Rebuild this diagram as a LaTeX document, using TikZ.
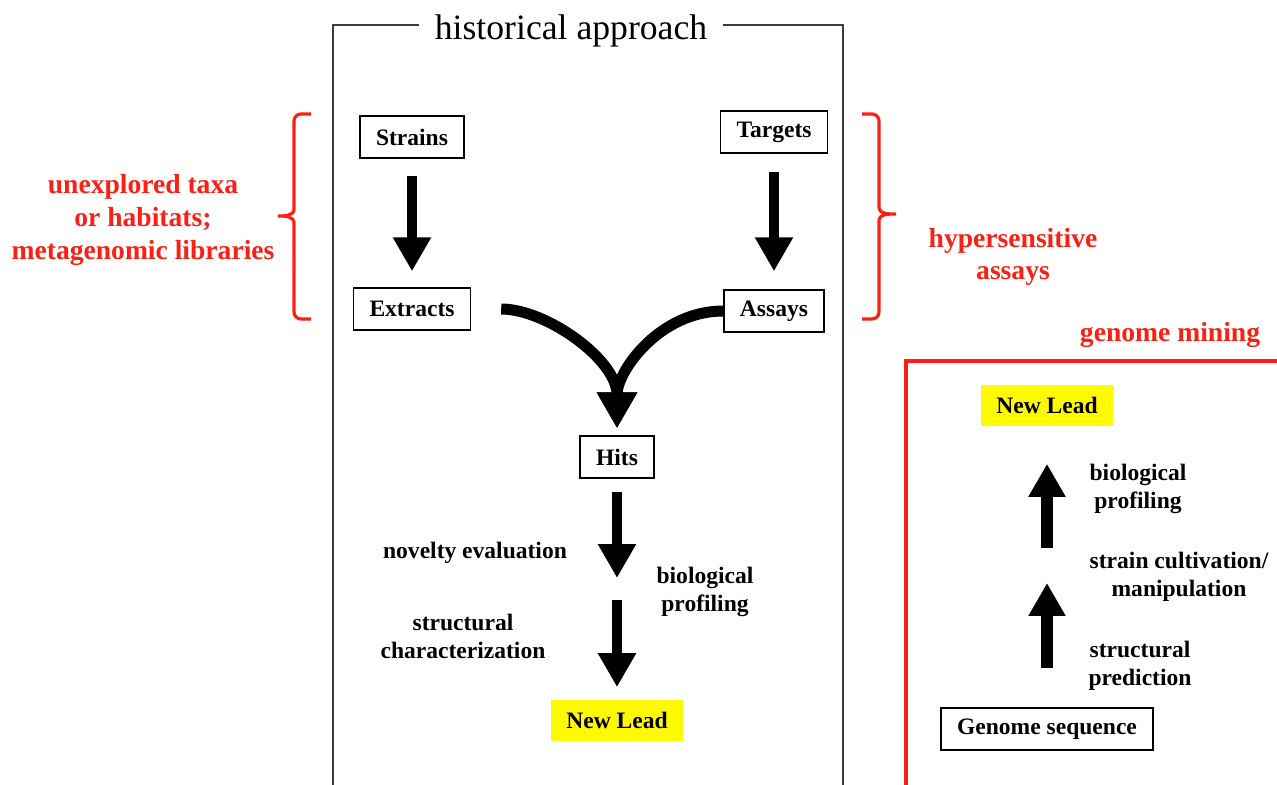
\documentclass[tikz,border=0pt]{standalone}
\usepackage{fontspec}
\setmainfont{Liberation Serif}
\usepackage{tikz}
\usetikzlibrary{arrows.meta,positioning,calc}
\usepackage{xcolor}
\definecolor{markred}{RGB}{250,32,20}
\definecolor{leadyellow}{RGB}{255,250,0}
\definecolor{frame}{RGB}{60,60,60}

\begin{document}
\begin{tikzpicture}[x=0.02cm, y=-0.02cm,
    stage/.style={draw, line width=0.8pt, inner xsep=0.32cm, minimum height=0.84cm, font=\fontsize{13.4}{15.5}\selectfont\bfseries},
    lead/.style={fill=leadyellow, inner xsep=0.31cm, minimum height=0.82cm, font=\fontsize{13.4}{15.5}\selectfont\bfseries},
    note/.style={align=center, font=\fontsize{13.4}{16}\selectfont\bfseries},
    rednote/.style={align=center, text=markred, font=\fontsize{15.7}{18.6}\selectfont\bfseries},
    bigarrow/.style={line width=0.2cm, -{Triangle[length=0.68cm,width=0.72cm]}},
    curvearrow/.style={line width=0.22cm, -{Triangle[length=0.72cm,width=0.76cm]}},
    upstroke/.style={line width=0.24cm, -{Triangle[length=0.66cm,width=0.7cm]}},
    brace/.style={draw=markred, line width=1.8pt}]

    \clip (0,0) rectangle (1277,784);

    % historical approach frame
    \coordinate (ftop) at (333,25);
    \node[font=\fontsize{20.3}{24}\selectfont, inner xsep=0.3cm] (title) at (571,31) {historical approach};
    \draw[frame, line width=0.8pt] (title.west |- ftop) -- (ftop) -- (333,800);
    \draw[frame, line width=0.8pt] (title.east |- ftop) -- (843,25) -- (843,800);

    \node[stage] (strains) at (412,137) {Strains};
    \node[stage] (targets) at (774,132) {Targets};
    \node[stage] (extracts) at (412,309) {Extracts};
    \node[stage] (assays) at (774,311) {Assays};
    \node[stage] (hits) at (617,457) {Hits};
    \node[lead] (lead) at (617,720) {New Lead};
    \coordinate (check) at (617,589);

    % strains -> extracts, targets -> assays
    \draw[bigarrow, shorten <=0.34cm, shorten >=0.32cm] (strains) -- (extracts);
    \draw[bigarrow, shorten <=0.36cm, shorten >=0.36cm] (targets) -- (assays);

    % extracts + assays -> hits
    \draw[curvearrow, shorten <=0.6cm, shorten >=0.14cm] (extracts.east) to[out=0, in=90] (hits.north);
    \draw[curvearrow, shorten >=0.14cm] (assays.west) to[out=180, in=90] (hits.north);

    % hits -> new lead
    \draw[bigarrow, shorten <=0.26cm, shorten >=0.22cm] (hits) -- (check);
    \draw[bigarrow, shorten <=0.22cm, shorten >=0.24cm] (check) -- (lead);

    \node[note] (novelty) at (475,553) {novelty evaluation};
    \node[note] (struct) at (463,636) {structural\\characterization};
    \node[note] (bioprof) at (705,592) {biological\\profiling};

    % red brackets
    \draw[brace] (311,114) -- (301,114) to[out=180,in=90] (294,121) -- (294,209)
        to[out=-90,in=0] (278,216) to[out=0,in=90] (294,223) -- (294,312)
        to[out=-90,in=180] (301,319) -- (311,319);
    \draw[brace] (862,114) -- (872,114) to[out=0,in=90] (879,121) -- (879,207)
        to[out=-90,in=180] (896,214) to[out=180,in=90] (879,221) -- (879,312)
        to[out=-90,in=0] (872,319) -- (862,319);
    \node[rednote] (taxa) at (143,220) {unexplored taxa\\or habitats;\\metagenomic libraries};
    \node[rednote] (hyper) at (1013,257) {hypersensitive\\assays};

    % genome mining
    \node[rednote] (mining) at (1170,335) {genome mining};
    \draw[markred, line width=1.8pt] (1290,361) -- (906,361) -- (906,800);

    \node[lead] (lead2) at (1047,405) {New Lead};
    \node[stage] (genome) at (1047,729) {Genome sequence};
    \coordinate (cultivate) at (1047,566);

    \draw[upstroke, shorten <=0.78cm, shorten >=0.34cm] (genome) -- (cultivate);
    \draw[upstroke, shorten <=0.36cm, shorten >=0.76cm] (cultivate) -- (lead2);

    \node[note] (bioprof2) at (1138,489) {biological\\profiling};
    \node[note] (strain) at (1179,577) {strain cultivation/\\manipulation};
    \node[note] (predict) at (1140,666) {structural\\prediction};
\end{tikzpicture}
\end{document}
